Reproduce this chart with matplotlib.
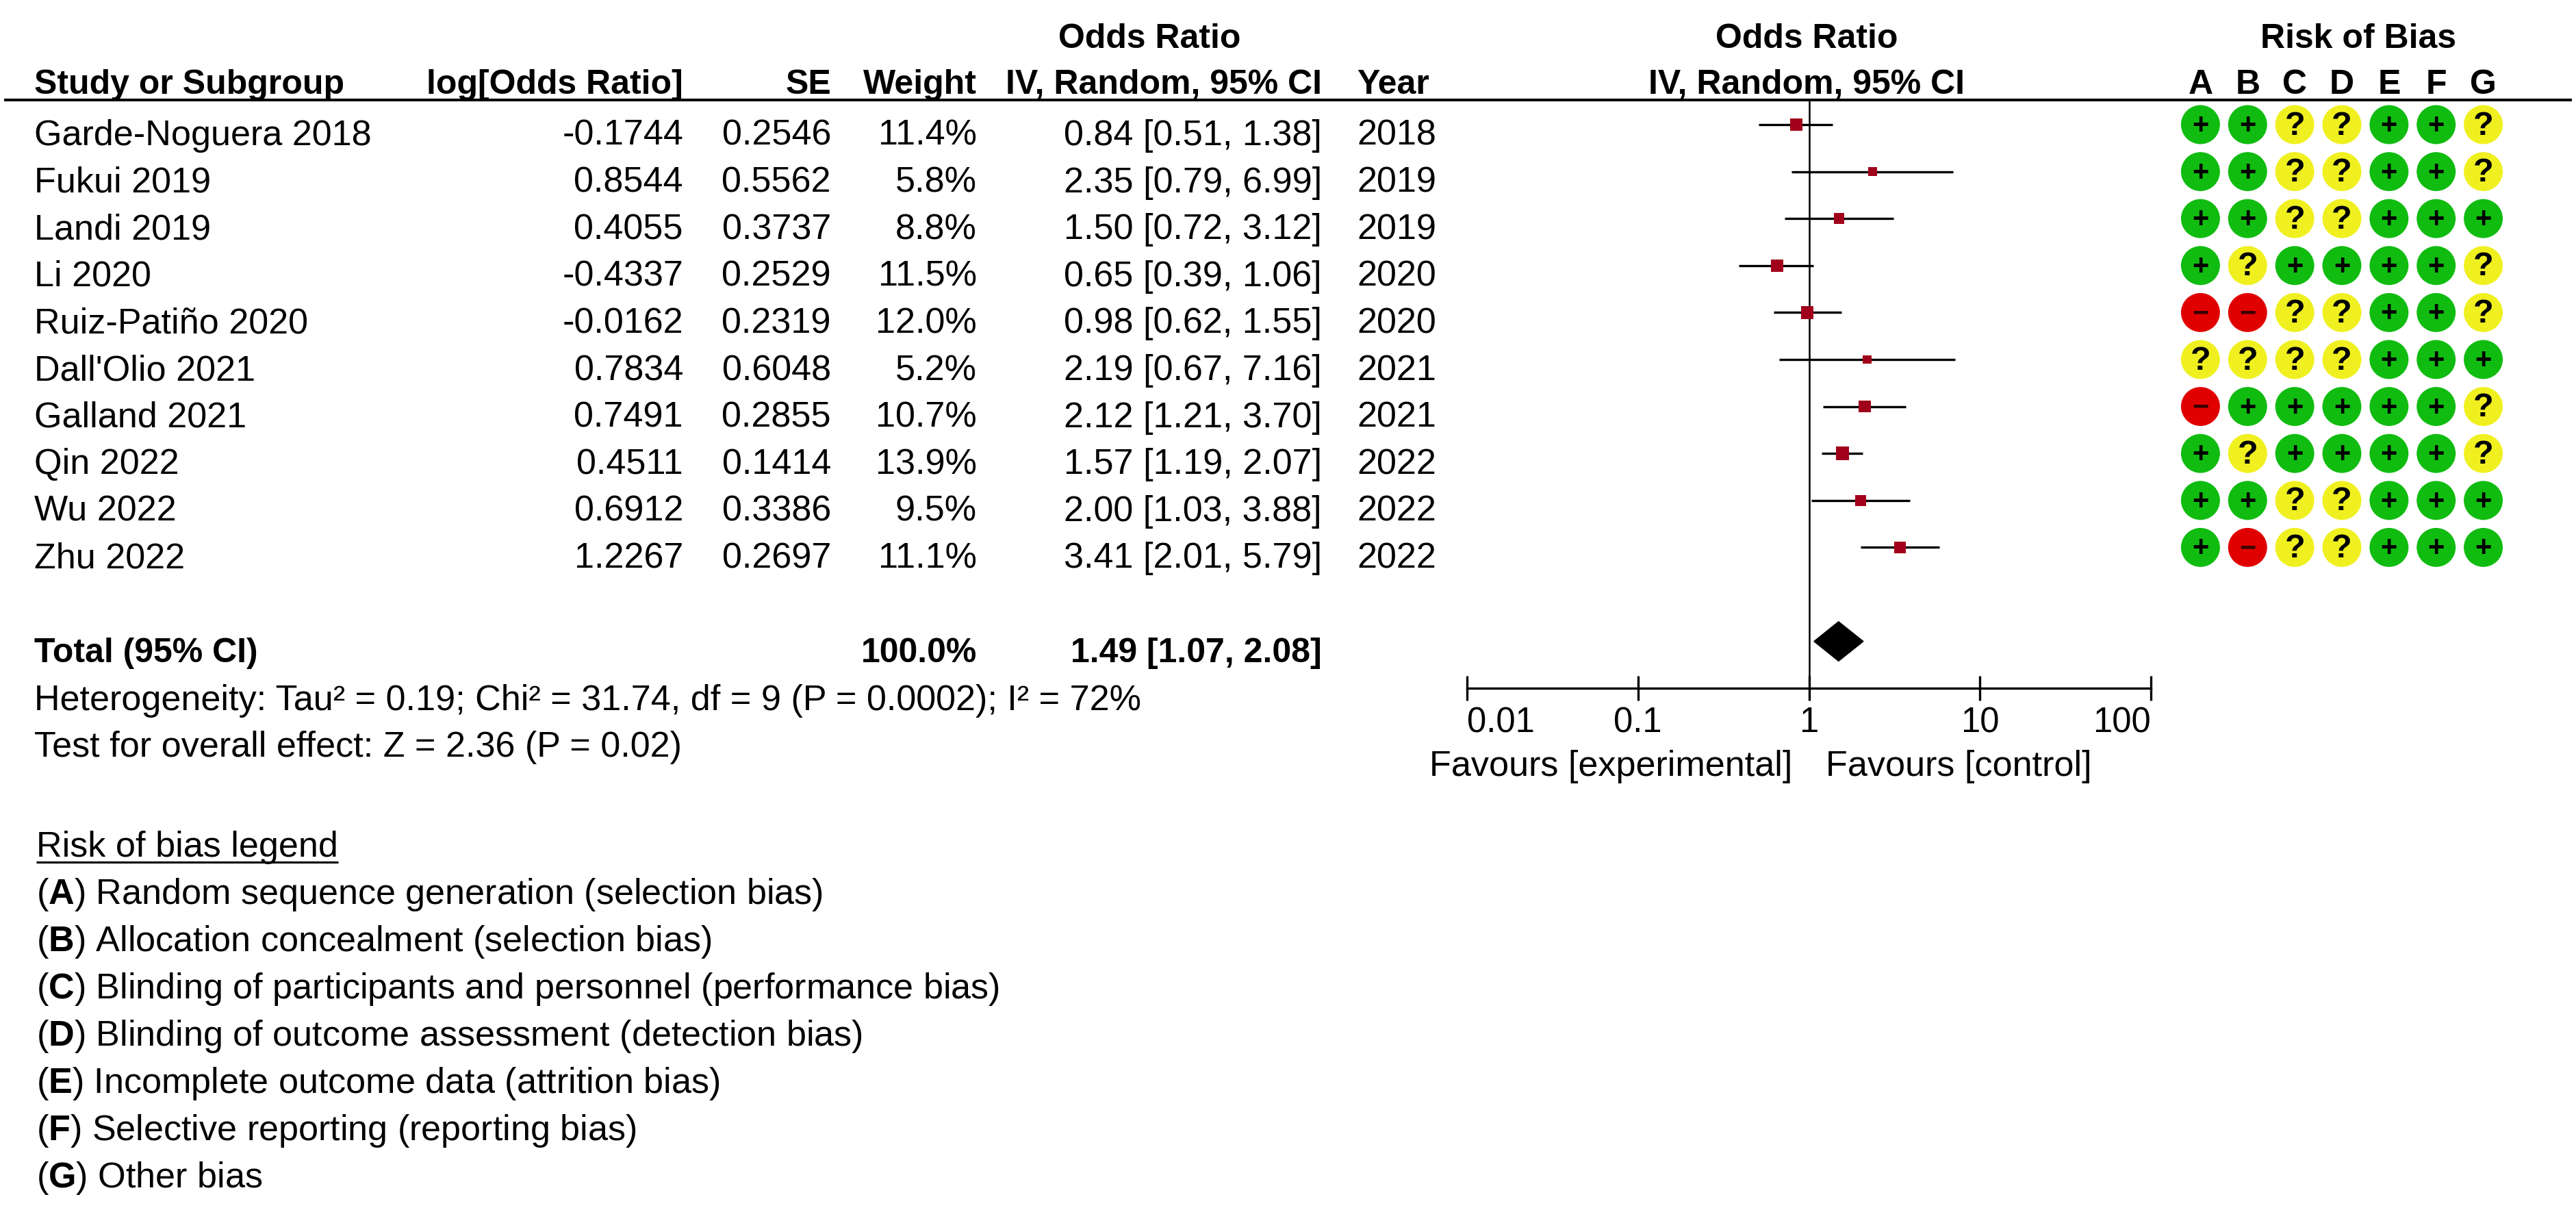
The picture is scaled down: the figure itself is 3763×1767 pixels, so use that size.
import numpy as np
import matplotlib.pyplot as plt
from matplotlib.ticker import FixedLocator, NullLocator
from matplotlib.transforms import blended_transform_factory

plt.rcParams['font.family'] = ['Liberation Sans', 'DejaVu Sans']
plt.rcParams['mathtext.fontset'] = 'custom'
plt.rcParams['mathtext.rm'] = 'Liberation Sans'
plt.rcParams['mathtext.bf'] = 'Liberation Sans:bold'

# data
studies = ["Garde-Noguera 2018", "Fukui 2019", "Landi 2019", "Li 2020", "Ruiz-Patiño 2020",
           "Dall'Olio 2021", "Galland 2021", "Qin 2022", "Wu 2022", "Zhu 2022"]
log_or = [-0.1744, 0.8544, 0.4055, -0.4337, -0.0162, 0.7834, 0.7491, 0.4511, 0.6912, 1.2267]
se = [0.2546, 0.5562, 0.3737, 0.2529, 0.2319, 0.6048, 0.2855, 0.1414, 0.3386, 0.2697]
weight = [11.4, 5.8, 8.8, 11.5, 12.0, 5.2, 10.7, 13.9, 9.5, 11.1]
or_est = [0.84, 2.35, 1.50, 0.65, 0.98, 2.19, 2.12, 1.57, 2.00, 3.41]
ci_lo = [0.51, 0.79, 0.72, 0.39, 0.62, 0.67, 1.21, 1.19, 1.03, 2.01]
ci_hi = [1.38, 6.99, 3.12, 1.06, 1.55, 7.16, 3.70, 2.07, 3.88, 5.79]
years = [2018, 2019, 2019, 2020, 2020, 2021, 2021, 2022, 2022, 2022]

total_weight = 100.0
total_or, total_lo, total_hi = 1.49, 1.07, 2.08
tau2, chi2, df, p_het, i2 = 0.19, 31.74, 9, "0.0002", 72
z_val, p_z = 2.36, "0.02"

tick_vals = [0.01, 0.1, 1, 10, 100]
tick_labels = ["0.01", "0.1", "1", "10", "100"]

# risk of bias judgements, columns A..G
rob_letters = ["A", "B", "C", "D", "E", "F", "G"]
rob = ["++??++?", "++??++?", "++??+++", "+?++++?", "--??++?",
       "????+++", "-+++++?", "+?++++?", "++??+++", "+-??+++"]
rob_domains = ["Random sequence generation (selection bias)",
               "Allocation concealment (selection bias)",
               "Blinding of participants and personnel (performance bias)",
               "Blinding of outcome assessment (detection bias)",
               "Incomplete outcome data (attrition bias)",
               "Selective reporting (reporting bias)",
               "Other bias"]

W, H = 3763, 1767
FS = 37.5     # regular text
FSB = 36      # bold headers
ROW0, PITCH = 182, 68.6      # pixel centre of first study row, row pitch
TOP, AXIS_Y = 146, 1005      # header rule and forest axis line

fig = plt.figure(figsize=(W / 100, H / 100), dpi=100)
bg = fig.add_axes([0, 0, 1, 1])
bg.set_xlim(0, W)
bg.set_ylim(H, 0)
bg.axis('off')

def base(i):
    return ROW0 + PITCH * i + 30

# headers
bg.text(1679, 70, "Odds Ratio", ha='center', fontsize=FSB, weight='bold')
bg.text(2639, 70, "Odds Ratio", ha='center', fontsize=FSB, weight='bold')
bg.text(3445, 70, "Risk of Bias", ha='center', fontsize=FSB, weight='bold')
hy = 137
bg.text(50, hy, "Study or Subgroup", ha='left', fontsize=FSB, weight='bold')
bg.text(998, hy, "log[Odds Ratio]", ha='right', fontsize=FSB, weight='bold')
bg.text(1214, hy, "SE", ha='right', fontsize=FSB, weight='bold')
bg.text(1427, hy, "Weight", ha='right', fontsize=FSB, weight='bold')
bg.text(1931, hy, "IV, Random, 95% CI", ha='right', fontsize=FSB, weight='bold')
bg.text(1982, hy, "Year", ha='left', fontsize=FSB, weight='bold')
bg.text(2639, hy, "IV, Random, 95% CI", ha='center', fontsize=FSB, weight='bold')
bg.plot([6, 3757], [TOP, TOP], color='black', lw=2.9, solid_capstyle='butt')

# study rows
for i, name in enumerate(studies):
    y = base(i)
    bg.text(50, y, name, ha='left', fontsize=FS)
    bg.text(998, y, f"{log_or[i]:.4f}", ha='right', fontsize=FS)
    bg.text(1214, y, f"{se[i]:.4f}", ha='right', fontsize=FS)
    bg.text(1427, y, f"{weight[i]:.1f}%", ha='right', fontsize=FS)
    bg.text(1931, y, f"{or_est[i]:.2f} [{ci_lo[i]:.2f}, {ci_hi[i]:.2f}]", ha='right', fontsize=FS)
    bg.text(1982, y, str(years[i]), ha='left', fontsize=FS)

# total
ty = base(11)
bg.text(50, ty, "Total (95% CI)", ha='left', fontsize=FSB, weight='bold')
bg.text(1427, ty, f"{total_weight:.1f}%", ha='right', fontsize=FSB, weight='bold')
bg.text(1931, ty, f"{total_or:.2f} [{total_lo:.2f}, {total_hi:.2f}]", ha='right', fontsize=FSB, weight='bold')
bg.text(50, 1037, f"Heterogeneity: Tau² = {tau2:.2f}; Chi² = {chi2:.2f}, df = {df} (P = {p_het}); I² = {i2}%",
        ha='left', fontsize=FS)
bg.text(50, 1105, f"Test for overall effect: Z = {z_val:.2f} (P = {p_z})", ha='left', fontsize=FS)

# forest plot
fx0, fx1 = 2143, 3142
fa = fig.add_axes([fx0 / W, (H - AXIS_Y) / H, (fx1 - fx0) / W, (AXIS_Y - TOP) / H])
fa.patch.set_alpha(0)
fa.set_xscale('log')
fa.set_xlim(0.01, 100)
fa.set_ylim((AXIS_Y - ROW0) / PITCH, (TOP - ROW0) / PITCH)
for s in ['top', 'left', 'right']:
    fa.spines[s].set_visible(False)
fa.spines['bottom'].set_linewidth(2.4)
fa.set_yticks([])
fa.xaxis.set_major_locator(FixedLocator(tick_vals))
labs = fa.set_xticklabels(tick_labels)
labs[0].set_horizontalalignment('left')
labs[-1].set_horizontalalignment('right')
fa.xaxis.set_minor_locator(NullLocator())
fa.tick_params(axis='x', direction='inout', length=26, width=2.4, labelsize=36.5, pad=6)

rows = np.arange(len(studies))
fa.axvline(1, color='black', lw=1.8, zorder=1)
fa.hlines(rows, ci_lo, ci_hi, color='black', lw=2.4, zorder=2)
sizes = (5.3 * np.sqrt(weight) * 0.72) ** 2
fa.scatter(or_est, rows, marker='s', s=sizes, color='#A0001A', edgecolors='none', zorder=3)
fa.fill([total_lo, total_or, total_hi, total_or], [11, 11 - 0.42, 11, 11 + 0.42],
        color='black', zorder=3)

bg.text(2618, 1133, "Favours [experimental]", ha='right', fontsize=FS)
bg.text(2667, 1133, "Favours [control]", ha='left', fontsize=FS)

# risk of bias dots
rx0, rx1 = 3180, 3662
ra = fig.add_axes([rx0 / W, (H - AXIS_Y) / H, (rx1 - rx0) / W, (AXIS_Y - TOP) / H])
ra.patch.set_alpha(0)
ra.set_xlim(-0.5, 6.5)
ra.set_ylim((AXIS_Y - ROW0) / PITCH, (TOP - ROW0) / PITCH)
ra.axis('off')
dot_col = {'+': '#10BC10', '?': '#F0F020', '-': '#E00000'}
sym = {'+': '+', '?': '?', '-': '−'}
sym_size = {'+': 30, '?': 35, '-': 30}
sym_col = {'+': 'black', '?': 'black', '-': '#3a0000'}
for i, codes in enumerate(rob):
    for j, c in enumerate(codes):
        ra.scatter(j, i, s=41 ** 2, color=dot_col[c], edgecolors='none', zorder=2)
        ra.text(j, i + 0.03, sym[c], ha='center', va='center', fontsize=sym_size[c],
                weight='bold', color=sym_col[c], zorder=3)

lt = blended_transform_factory(ra.transData, bg.transData)
for j, L in enumerate(rob_letters):
    bg.text(j, hy, L, ha='center', fontsize=FSB, weight='bold', transform=lt)

# legend
leg = bg.text(53, 1251, "Risk of bias legend", ha='left', fontsize=FS)
fig.canvas.draw()
bb = leg.get_window_extent().transformed(bg.transData.inverted())
bg.plot([bb.x0, bb.x1], [1259, 1259], color='black', lw=2.2, solid_capstyle='butt')
for k, (L, desc) in enumerate(zip(rob_letters, rob_domains)):
    bg.text(53, 1320 + 69 * k, rf"($\mathbf{{{L}}}$) {desc}", ha='left', fontsize=FS)

fig.savefig("out.png", dpi=100, facecolor='white')
